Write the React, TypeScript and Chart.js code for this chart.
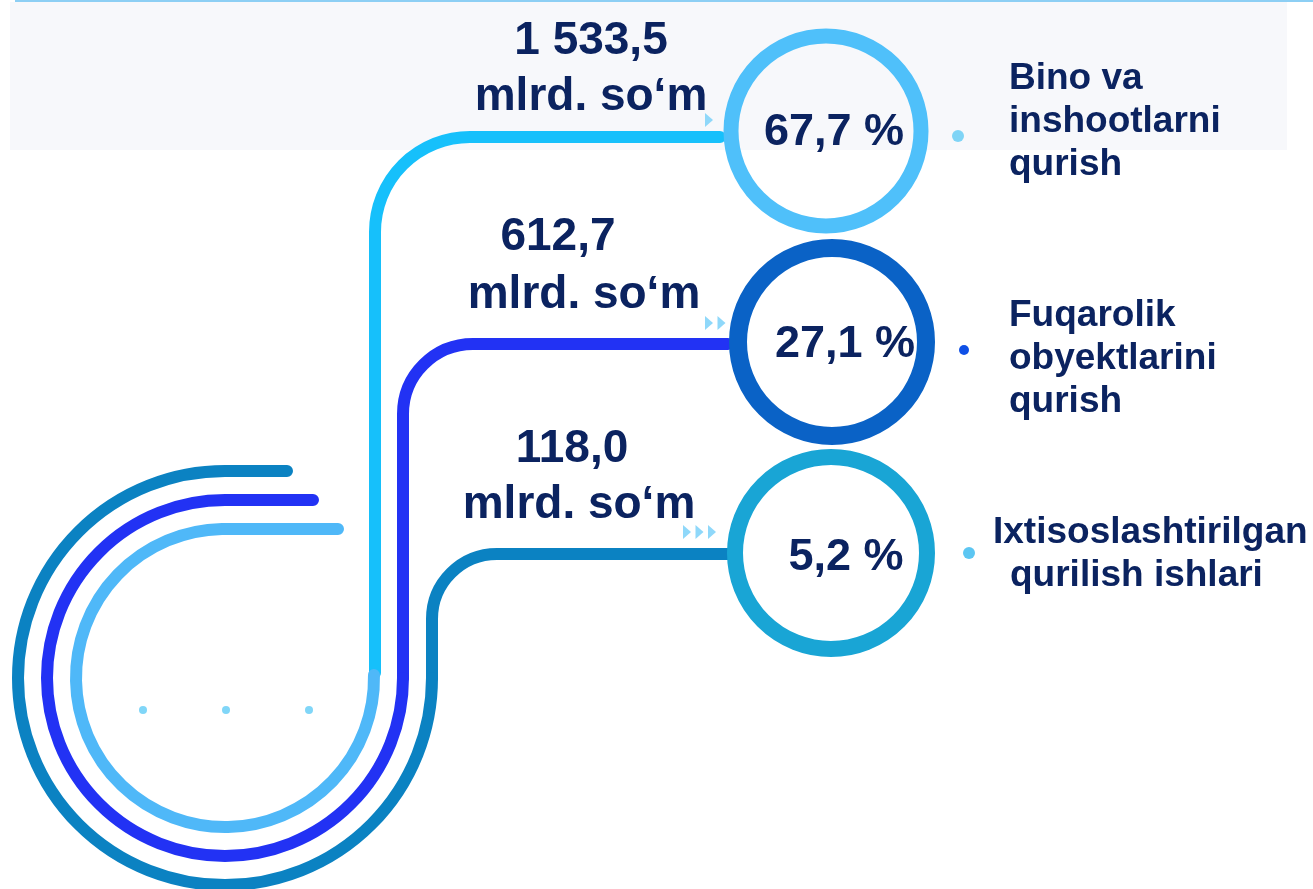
import React, { useEffect, useRef } from "react";
import { Chart, registerables } from "chart.js";

Chart.register(...registerables);

// ---------------- DATA ----------------
const categories: string[][] = [
  ["Bino va", "inshootlarni", "qurish"],
  ["Fuqarolik", "obyektlarini", "qurish"],
  ["Ixtisoslashtirilgan", "qurilish ishlari"],
];
const amounts: number[] = [1533.5, 612.7, 118.0];
const shares: number[] = [67.7, 27.1, 5.2];
const unitLabel = "mlrd. so‘m";

// ---------------- LAYOUT / STYLE ----------------
const W = 1313;
const H = 889;
const NAVY = "#0b2360";
const ringColors = ["#4fc0fa", "#0a62c6", "#19a5d5"];
const ringX = [826, 832, 831];
const ringR = [95, 94, 96];
const ringW = [15, 18, 16];
const flowColors = ["#16c0fb", "#2232f4", "#0b82c2"];
const swirlColors = ["#4fb8f8", "#2232f4", "#0b82c2"];
const dotColors = ["#7fd4f6", "#0f50e6", "#5cc6f2"];

const fmtAmount = (v: number) => {
  const [i, d] = v.toFixed(1).split(".");
  return i.replace(/\B(?=(\d{3})+(?!\d))/g, " ") + "," + d;
};
const fmtShare = (v: number) => v.toFixed(1).replace(".", ",") + " %";

const decoPlugin = {
  id: "deco",
  beforeDraw(chart: any) {
    const ctx = chart.ctx;
    ctx.save();
    ctx.fillStyle = "#ffffff";
    ctx.fillRect(0, 0, W, H);
    ctx.fillStyle = "#f7f8fb";
    ctx.fillRect(10, 2, 1277, 148);
    ctx.fillStyle = "#8dcff4";
    ctx.fillRect(15, 0, W - 15, 2);
    ctx.restore();
  },
  beforeDatasetsDraw(chart: any) {
    const ctx = chart.ctx;
    const xs = chart.scales.x;
    const ys = chart.scales.y;
    const X = (v: number) => xs.getPixelForValue(v);
    const rowY = (i: number) => ys.getPixelForValue(i);
    const cx = X(225);
    const cy = 678;
    const swirlR = [149, 178, 207];
    const vertX = [375, 403, 432];
    const cornerR = [95, 70, 65];
    const lineY = [rowY(0) + 6, rowY(1) + 2, rowY(2) + 1];
    const lineEnd = [720, 728, 734];
    const tailEnd = [338, 313, 287];

    ctx.save();
    ctx.lineWidth = 12;
    ctx.lineCap = "round";
    ctx.lineJoin = "round";
    for (let i = 0; i < 3; i++) {
      const vx = X(vertX[i]);
      const cr = cornerR[i];
      // connector: horizontal -> corner -> vertical
      ctx.strokeStyle = flowColors[i];
      ctx.beginPath();
      ctx.moveTo(X(lineEnd[i]), lineY[i]);
      ctx.lineTo(vx + cr, lineY[i]);
      ctx.arc(vx + cr, lineY[i] + cr, cr, -Math.PI / 2, Math.PI, true);
      ctx.lineTo(vx, cy - (i === 0 ? 5 : 0));
      ctx.stroke();
      // swirl: 3/4 circle then tail
      ctx.strokeStyle = swirlColors[i];
      ctx.beginPath();
      ctx.arc(cx, cy, swirlR[i], i === 0 ? -0.02 : 0, Math.PI * 1.5, false);
      ctx.lineTo(X(tailEnd[i]), cy - swirlR[i]);
      ctx.stroke();
    }
    // small dots inside swirl
    ctx.fillStyle = "#80d6f8";
    [143, 226, 309].forEach((px) => {
      ctx.beginPath();
      ctx.arc(X(px), 710, 4, 0, Math.PI * 2);
      ctx.fill();
    });
    // arrow chevrons
    ctx.fillStyle = "#8fd8fa";
    const triStart = [705, 705, 683];
    const triY = [rowY(0) - 11, rowY(1) - 19, rowY(2) - 21];
    for (let i = 0; i < 3; i++) {
      for (let k = 0; k <= i; k++) {
        const tx = X(triStart[i] + k * 12.5);
        ctx.beginPath();
        ctx.moveTo(tx, triY[i] - 7);
        ctx.lineTo(tx + 8, triY[i]);
        ctx.lineTo(tx, triY[i] + 7);
        ctx.closePath();
        ctx.fill();
      }
    }
    ctx.restore();
  },
  afterDatasetsDraw(chart: any) {
    const ctx = chart.ctx;
    const xs = chart.scales.x;
    const ys = chart.scales.y;
    const X = (v: number) => xs.getPixelForValue(v);
    const rowY = (i: number) => ys.getPixelForValue(i);
    ctx.save();
    ctx.fillStyle = NAVY;
    ctx.textBaseline = "alphabetic";

    // amount labels
    ctx.font = 'bold 46px "Liberation Sans", Arial, sans-serif';
    ctx.textAlign = "center";
    const amtX = [[591, 591], [558, 584], [572, 579]];
    const amtDy = [[-77, -21], [-92, -34], [-91, -35]];
    for (let i = 0; i < 3; i++) {
      const y = rowY(i);
      ctx.fillText(fmtAmount(amounts[i]), X(amtX[i][0]), y + amtDy[i][0]);
      ctx.fillText(unitLabel, X(amtX[i][1]), y + amtDy[i][1]);
    }

    // share labels inside rings
    ctx.font = 'bold 45px "Liberation Sans", Arial, sans-serif';
    const shX = [834, 845, 846];
    const shDy = [14, 15, 17];
    for (let i = 0; i < 3; i++) {
      ctx.fillText(fmtShare(shares[i]), X(shX[i]), rowY(i) + shDy[i]);
    }

    // bullet dots
    const dX = [958, 964, 969];
    const dR = [6, 5, 6];
    const dDy = [5, 8, 0];
    for (let i = 0; i < 3; i++) {
      ctx.fillStyle = dotColors[i];
      ctx.beginPath();
      ctx.arc(X(dX[i]), rowY(i) + dDy[i], dR[i], 0, Math.PI * 2);
      ctx.fill();
    }

    // category labels
    ctx.fillStyle = NAVY;
    ctx.font = 'bold 37px "Liberation Sans", Arial, sans-serif';
    ctx.textAlign = "left";
    const catFirstDy = [-42, -16, -10];
    const catX = [[1009, 1009, 1009], [1009, 1009, 1009], [993, 1010]];
    for (let i = 0; i < 3; i++) {
      categories[i].forEach((line, k) => {
        ctx.fillText(line, X(catX[i][k]), rowY(i) + catFirstDy[i] + k * 43);
      });
    }
    ctx.restore();
  },
};

export default function App() {
  const ref = useRef<HTMLCanvasElement | null>(null);
  useEffect(() => {
    if (!ref.current) return;
    const labels = categories.map((c) => c.join(" "));
    const chart = new Chart(ref.current, {
      type: "scatter",
      data: {
        labels,
        datasets: [
          {
            data: labels.map((l, i) => ({ x: ringX[i], y: l })) as any,
            pointStyle: "circle",
            pointRadius: ringR,
            pointHoverRadius: ringR,
            borderWidth: ringW,
            pointBorderWidth: ringW,
            pointBorderColor: ringColors,
            borderColor: ringColors,
            pointBackgroundColor: "rgba(255,255,255,0)",
            backgroundColor: "rgba(255,255,255,0)",
            clip: false as any,
          },
        ],
      },
      options: {
        responsive: false,
        animation: false,
        events: [],
        layout: { autoPadding: false, padding: { top: 25.5, bottom: H - 658.5, left: 0, right: 0 } },
        scales: {
          x: { type: "linear", min: 0, max: W, display: false },
          y: { type: "category", labels, offset: true, display: false },
        },
        plugins: { legend: { display: false }, tooltip: { enabled: false } },
      },
      plugins: [decoPlugin],
    });
    return () => chart.destroy();
  }, []);
  return (
    <div style={{ position: "absolute", left: 0, top: 0, width: W, height: H, background: "#fff" }}>
      <canvas ref={ref} width={W} height={H} style={{ display: "block" }} />
    </div>
  );
}
